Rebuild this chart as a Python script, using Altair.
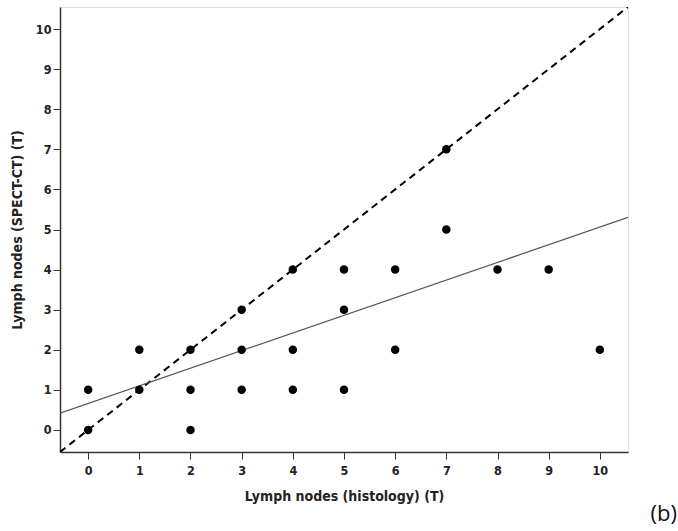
import altair as alt
import pandas as pd

# Lymph node counts per patient: histology (x) vs SPECT-CT (y)
histology = [0, 0, 1, 1, 2, 2, 2, 3, 3, 3, 4, 4, 4, 5, 5, 5, 6, 6, 7, 7, 8, 9, 10]
spect_ct = [0, 1, 1, 2, 0, 1, 2, 1, 2, 3, 1, 2, 4, 1, 3, 4, 2, 4, 5, 7, 4, 4, 2]

# Linear fit (intercept, slope) and the axis extent
fit_intercept = 0.66
fit_slope = 0.44
axis_min, axis_max = -0.55, 10.55
ticks = list(range(0, 11))

points = pd.DataFrame({"hist": histology, "spect": spect_ct})
identity = pd.DataFrame({"hist": [axis_min, axis_max], "spect": [axis_min, axis_max]})
fit = pd.DataFrame({
    "hist": [axis_min, axis_max],
    "spect": [fit_intercept + fit_slope * axis_min, fit_intercept + fit_slope * axis_max],
})

label_font = "DejaVu Sans Condensed"
title_font = "DejaVu Sans Condensed"

common_axis = dict(
    values=ticks, grid=False,
    labelFont=label_font, labelFontWeight="bold", labelFontSize=12.5, labelColor="#222",
    titleFont=title_font, titleFontWeight="bold", titleFontSize=14, titleColor="#222",
    tickSize=7, tickColor="#333", domainColor="#333", domainWidth=1.5,
)

x_enc = alt.X(
    "hist:Q",
    scale=alt.Scale(domain=[axis_min, axis_max], nice=False, zero=False),
    axis=alt.Axis(title="Lymph nodes (histology) (T)", titlePadding=13, labelPadding=5, **common_axis),
)
y_enc = alt.Y(
    "spect:Q",
    scale=alt.Scale(domain=[axis_min, axis_max], nice=False, zero=False),
    axis=alt.Axis(title="Lymph nodes (SPECT-CT) (T)", titlePadding=11, labelPadding=2, **common_axis),
)

dashed = alt.Chart(identity).mark_line(
    color="black", strokeDash=[7, 5], strokeWidth=2, clip=True
).encode(x=x_enc, y=y_enc)

fit_line = alt.Chart(fit).mark_line(
    color="#555", strokeWidth=1.2, clip=True
).encode(x=x_enc, y=y_enc)

dots = alt.Chart(points).mark_circle(
    color="black", opacity=1, size=72
).encode(x=x_enc, y=y_enc)

chart = alt.layer(dashed, fit_line, dots).properties(
    width=568,
    height=445,
    autosize=alt.AutoSizeParams(type="none"),
    padding={"left": 60, "top": 7, "right": 50, "bottom": 79},
    title=alt.TitleParams(
        "(b)", orient="bottom", anchor="end", dx=49, offset=0,
        font="Open Sans", fontSize=22, fontWeight="normal", color="#111",
    ),
).configure_view(
    fill="#F0F0F0", stroke="#888", strokeWidth=1.5
).configure(background="white")

chart.save("out.html", embed_options={"renderer": "svg", "actions": False})
